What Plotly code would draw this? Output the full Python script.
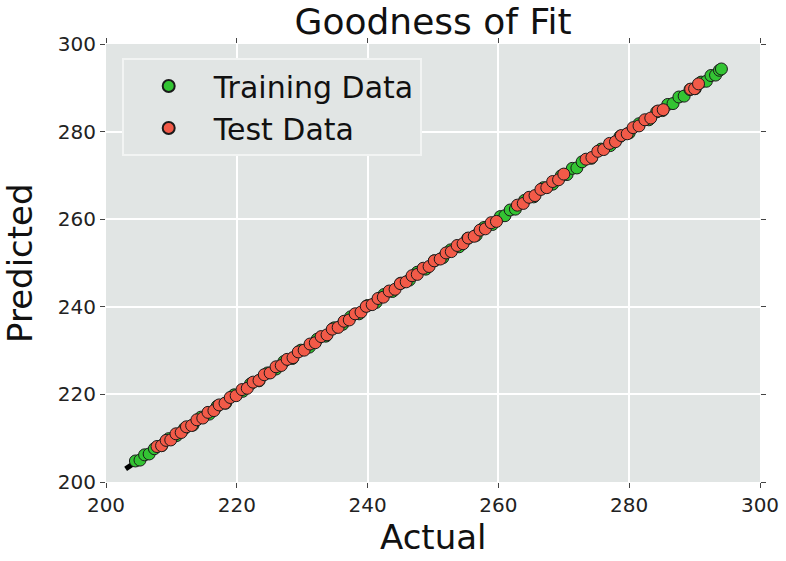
import plotly.graph_objects as go

# actual vs predicted
train_actual = [204.5, 205.2, 205.9, 206.6, 207.4, 208.5, 209.6, 210.8, 212.0, 213.3, 214.5, 215.8,
                217.0, 218.3, 219.6, 220.9, 222.1, 223.4, 224.7, 226.0, 227.2, 228.5, 229.8, 231.1,
                232.3, 233.6, 234.9, 236.2, 237.4, 238.7, 240.0, 241.3, 242.5, 243.8, 245.1, 246.4,
                247.6, 248.9, 250.2, 251.5, 252.7, 254.0, 255.3, 256.6, 257.8, 259.1, 260.3, 261.0,
                261.8, 262.6, 264.0, 265.4, 266.9, 268.3, 269.6, 270.5, 271.3, 272.0, 272.8, 274.2,
                275.7, 277.1, 278.6, 280.0, 281.5, 283.0, 284.2, 285.1, 285.9, 286.7, 287.6, 288.4,
                289.3, 290.1, 291.0, 291.8, 292.5, 293.2, 293.8, 294.1]
train_pred = [204.8, 205.0, 206.2, 206.4, 207.6, 208.3, 209.9, 210.6, 212.2, 213.0, 214.8, 215.5,
              217.3, 218.0, 219.9, 220.7, 222.4, 223.1, 224.9, 225.8, 227.5, 228.2, 230.1, 230.8,
              232.6, 233.3, 235.2, 236.0, 237.7, 238.4, 240.3, 241.0, 242.8, 243.5, 245.4, 246.1,
              247.9, 248.6, 250.5, 251.2, 253.0, 253.7, 255.6, 256.3, 258.1, 258.8, 260.6, 260.8,
              262.1, 262.3, 264.3, 265.1, 267.2, 268.0, 269.9, 270.2, 271.6, 271.7, 273.1, 273.9,
              276.0, 276.8, 278.9, 279.7, 281.8, 282.7, 284.5, 284.8, 286.2, 286.4, 287.9, 288.1,
              289.6, 289.8, 291.3, 291.5, 292.8, 292.9, 294.0, 294.3]
test_actual = [207.8, 208.5, 209.2, 209.9, 210.7, 211.5, 212.3, 213.1, 213.9, 214.8, 215.6, 216.5,
               217.3, 218.2, 219.0, 219.9, 220.8, 221.6, 222.5, 223.4, 224.2, 225.1, 226.0, 226.8,
               227.7, 228.6, 229.4, 230.3, 231.2, 232.0, 232.9, 233.8, 234.6, 235.5, 236.4, 237.2,
               238.1, 239.0, 239.8, 240.7, 241.6, 242.4, 243.3, 244.2, 245.0, 245.9, 246.8, 247.6,
               248.5, 249.4, 250.2, 251.1, 252.0, 252.8, 253.7, 254.6, 255.4, 256.3, 257.2, 258.0,
               258.9, 259.7, 262.9, 263.8, 264.7, 265.6, 266.5, 267.4, 268.3, 269.2, 270.0, 273.4,
               274.3, 275.2, 276.1, 277.0, 277.9, 278.8, 279.7, 280.6, 281.5, 282.4, 283.3, 284.4,
               285.2, 289.4, 290.0, 290.6]
test_pred = [208.1, 208.3, 209.5, 209.6, 211.0, 211.3, 212.6, 212.9, 214.2, 214.6, 215.9, 216.3,
             217.6, 218.0, 219.3, 219.7, 221.1, 221.4, 222.8, 223.2, 224.5, 224.9, 226.3, 226.6,
             228.0, 228.4, 229.7, 230.1, 231.5, 231.8, 233.2, 233.6, 234.9, 235.3, 236.7, 237.0,
             238.4, 238.8, 240.1, 240.5, 241.9, 242.2, 243.6, 244.0, 245.3, 245.7, 247.1, 247.4,
             248.8, 249.2, 250.5, 250.9, 252.3, 252.6, 254.0, 254.4, 255.7, 256.1, 257.5, 257.8,
             259.2, 259.5, 263.2, 263.6, 265.0, 265.4, 266.8, 267.2, 268.6, 269.0, 270.3, 273.7,
             274.1, 275.5, 275.9, 277.3, 277.7, 279.1, 279.5, 280.9, 281.3, 282.7, 283.1, 284.7,
             285.0, 289.7, 289.8, 290.9]
fit_x = [203, 294]
fit_y = [203, 294]

BG = "#e1e5e4"
FONT = "DejaVu Sans"

fig = go.Figure()
fig.add_trace(go.Scatter(x=fit_x, y=fit_y, mode="lines", line=dict(color="black", width=5),
                         showlegend=False, hoverinfo="skip"))
fig.add_trace(go.Scatter(x=train_actual, y=train_pred, mode="markers", name="Training Data",
                         marker=dict(color="#33c433", size=12, line=dict(color="#1a1a1a", width=1))))
fig.add_trace(go.Scatter(x=test_actual, y=test_pred, mode="markers", name="Test Data",
                         marker=dict(color="#f25a48", size=12, line=dict(color="#1a1a1a", width=1))))

axis_common = dict(range=[200, 300], dtick=20, showgrid=True, gridcolor="white", gridwidth=1.5,
                   zeroline=False, showline=False, ticks="outside", ticklen=5, tickcolor="#444",
                   mirror="ticks", automargin=False, tickfont=dict(size=20, color="#222", family=FONT))

fig.update_layout(
    width=786, height=561,
    margin=dict(l=106, r=26, t=44, b=79),
    paper_bgcolor="white", plot_bgcolor=BG,
    font=dict(family=FONT, color="#111"),
    title=dict(text="Goodness of Fit", x=0.551, xanchor="center", y=0.962, yanchor="middle",
               font=dict(size=36, family=FONT, color="#111")),
    xaxis=axis_common, yaxis=axis_common,
    legend=dict(x=0.024, y=0.968, xanchor="left", yanchor="top", bgcolor=BG,
                bordercolor="#f2f4f3", borderwidth=2, font=dict(size=30, family=FONT, color="#111"),
                itemsizing="constant", itemwidth=80),
)
# axis titles
fig.add_annotation(text="Actual", xref="paper", yref="paper", x=0.5, y=-0.1256, xanchor="center",
                   yanchor="middle", showarrow=False, font=dict(size=34, family=FONT, color="#111"))
fig.add_annotation(text="Predicted", xref="paper", yref="paper", x=-0.1315, y=0.5, xanchor="center",
                   yanchor="middle", textangle=-90, showarrow=False,
                   font=dict(size=34, family=FONT, color="#111"))

# drop the page's default body margin so the figure sits at the window's corner
fig.write_html("out.html", config={"displayModeBar": False},
               post_script="document.body.style.margin='0';")
